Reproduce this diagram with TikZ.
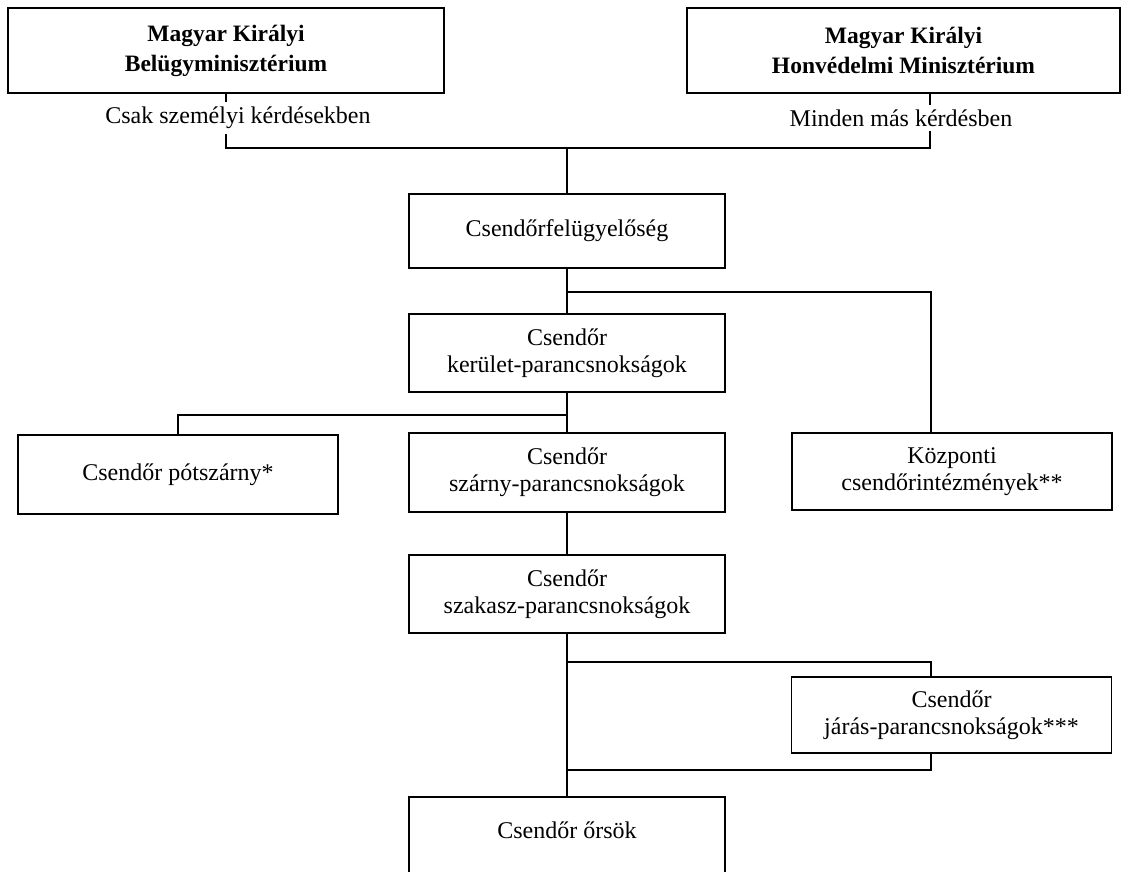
\documentclass[tikz,border=0pt]{standalone}
\usepackage{fontspec}
\setmainfont{Liberation Serif}

\begin{document}
\begin{tikzpicture}[x=1pt,y=-1pt,
  box/.style={draw, line width=1.6pt, align=center, inner sep=0pt,
    font=\fontsize{24}{27}\selectfont, minimum width=316pt, minimum height=78pt},
  headbox/.style={box, font=\fontsize{23.5}{30}\selectfont\bfseries, minimum height=85pt},
  note/.style={fill=white, inner sep=5pt, font=\fontsize{24}{27}\selectfont},
  every path/.style={line width=1.6pt}]
\useasboundingbox (0,0) rectangle (1121,871);

% ministries
\node [headbox, minimum width=436pt] (bm) at (226,50.5) {Magyar Királyi\\Belügyminisztérium};
\node [headbox, minimum width=433pt] (hm) at (903.5,50.5) {Magyar Királyi\\Honvédelmi Minisztérium};

% main column
\node [box, minimum height=74pt] (felugy) at (567,231) {Csendőrfelügyelőség};
\node [box] (kerulet) at (567,353) {Csendőr\\kerület-parancsnokságok};
\node [box, minimum height=79pt] (szarny) at (567,472.5) {Csendőr\\szárny-parancsnokságok};
\node [box] (szakasz) at (567,594) {Csendőr\\szakasz-parancsnokságok};
\node [box, anchor=north, minimum height=0pt, text height=42pt, text depth=52pt] (orsok) at (567,796) {Csendőr őrsök};

% side boxes
\node [box, minimum width=320pt, minimum height=79pt] (pot) at (178,474.5) {Csendőr pótszárny*};
\node [box, minimum width=320pt, minimum height=77pt] (kozp) at (952,471.5) {Központi\\csendőrintézmények**};
\node [box, minimum width=320pt, minimum height=76pt] (jaras) at (951.5,715) {Csendőr\\járás-parancsnokságok***};

% junction points
\coordinate (cL) at (226,148);
\coordinate (cR) at (930,148);
\coordinate (kR) at (931,292);
\coordinate (pL) at (178,415);
\coordinate (jT) at (931,662);
\coordinate (jB) at (931,770);

\draw (bm.south) -- (cL) -- (cR) -- (cR |- hm.south);
\draw (cL -| felugy.north) -- (felugy.north);
\foreach \a/\b in {felugy/kerulet, kerulet/szarny, szarny/szakasz, szakasz/orsok}{
  \draw (\a.south) -- (\b.north);
}
\draw (felugy.south |- kR) -- (kR) -- (kR |- kozp.north); % to central institutions
\draw (kerulet.south |- pL) -- (pL) -- (pot.north);
\draw (szakasz.south |- jT) -- (jT) -- (jT |- jaras.north); % district, down and back
\draw (jB |- jaras.south) -- (jB) -- (szakasz.south |- jB);

% labels over the lines
\node [note] (lblL) at (238,118) {Csak személyi kérdésekben};
\node [note] (lblR) at (901,118) {Minden más kérdésben};
\end{tikzpicture}
\end{document}
